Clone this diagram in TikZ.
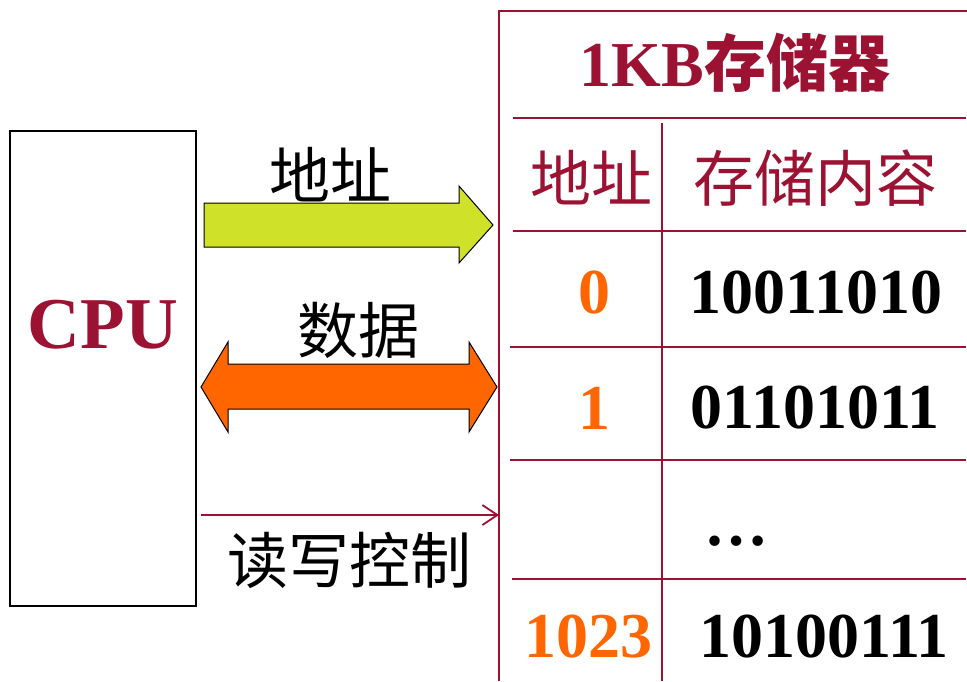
\documentclass[tikz,border=0pt]{standalone}
\usepackage{fontspec}
\setmainfont{Liberation Serif}
\newfontfamily\cjk{Noto Sans CJK SC}
\usetikzlibrary{arrows.meta}
\definecolor{dred}{HTML}{9C1232}
\definecolor{orng}{HTML}{FF6600}
\definecolor{ygrn}{HTML}{D0E12A}
\tikzset{
  tline/.style={draw=dred,line width=1.8pt},
  cjkbig/.style={font=\cjk\fontsize{61}{61}\selectfont,inner sep=0pt},
  numtxt/.style={font=\bfseries\fontsize{64}{64}\selectfont,inner sep=0pt},
  blockarrow/.style={draw=black,line width=1pt},
}
\begin{document}
\begin{tikzpicture}[x=1pt,y=-1pt]
\useasboundingbox (0,0) rectangle (967,681);
% memory table
\draw[tline] (967,11) -- (499,11) -- (499,681);
\draw[tline] (513,118) -- (966,118);
\draw[tline] (662,123) -- (662,681);
\draw[tline] (513,231) -- (966,231);
\draw[tline] (510,347) -- (966,347);
\draw[tline] (510,460) -- (966,460);
\draw[tline] (512,579) -- (966,579);
\node[inner sep=0pt,text=dred] (title) at (735,63)
  {\fontsize{64}{64}\selectfont\bfseries 1KB{\cjk\fontsize{62}{62}\selectfont 存储器}};
\node[cjkbig,text=dred] (haddr) at (591,178) {地址};
\node[cjkbig,text=dred] (hcont) at (815,178) {存储内容};
\node[numtxt,text=orng] (a0) at (594,293) {0};
\node[numtxt] (c0) at (816,293) {10011010};
\node[numtxt,text=orng] (a1) at (594,408) {1};
\node[numtxt] (c1) at (815,408) {01101011};
\node[numtxt] (dots) at (736,541) {…};
\node[numtxt,text=orng] (a3) at (588,637) {1023};
\node[numtxt] (c3) at (824,637) {10100111};
% CPU
\node[draw=black,line width=1.2pt,minimum width=186pt,minimum height=475pt,inner sep=0pt] (cpu) at (103,368.5) {};
\node[inner sep=0pt,text=dred,font=\bfseries\fontsize{73}{73}\selectfont] (cputxt) at (103,325) {CPU};
% address arrow
\filldraw[fill=ygrn,draw=black,line width=1pt] (204,203) -- (459,203) -- (459,186) -- (493,225) -- (459,263) -- (459,247) -- (204,247) -- cycle;
\node[cjkbig] (laddr) at (330,175) {地址};
% data arrow
\filldraw[fill=orng,draw=black,line width=1pt] (201,387) -- (228,342) -- (228,364) -- (469,364) -- (469,342) -- (497,387) -- (469,432) -- (469,409) -- (228,409) -- (228,432) -- cycle;
\node[cjkbig] (ldata) at (358,330) {数据};
% read/write control
\coordinate (rwstart) at (201,515);
\coordinate (rwend) at (499,515);
\draw[draw=dred,line width=1.8pt,-{Straight Barb[length=15pt,width=20pt,line width=1.8pt]}] (rwstart) -- (rwend);
\node[cjkbig] (lrw) at (349,560) {读写控制};
\end{tikzpicture}
\end{document}
